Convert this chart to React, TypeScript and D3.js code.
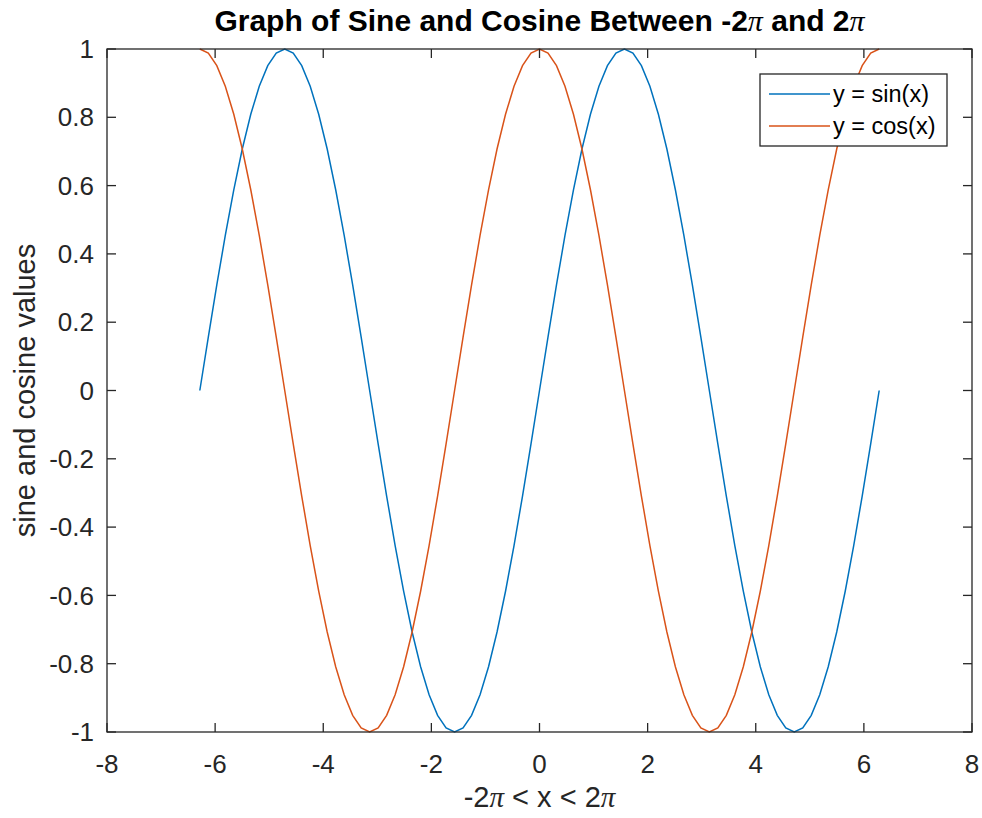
import React from "react";
import * as d3 from "d3";

const xValues = [
  -6.2832, -6.1261, -5.969, -5.8119, -5.6549, -5.4978, -5.3407, -5.1836, -5.0265, -4.8695,
  -4.7124, -4.5553, -4.3982, -4.2412, -4.0841, -3.927, -3.7699, -3.6128, -3.4558, -3.2987,
  -3.1416, -2.9845, -2.8274, -2.6704, -2.5133, -2.3562, -2.1991, -2.042, -1.885, -1.7279,
  -1.5708, -1.4137, -1.2566, -1.0996, -0.9425, -0.7854, -0.6283, -0.4712, -0.3142, -0.1571,
  0,
  0.1571, 0.3142, 0.4712, 0.6283, 0.7854, 0.9425, 1.0996, 1.2566, 1.4137, 1.5708,
  1.7279, 1.885, 2.042, 2.1991, 2.3562, 2.5133, 2.6704, 2.8274, 2.9845, 3.1416,
  3.2987, 3.4558, 3.6128, 3.7699, 3.927, 4.0841, 4.2412, 4.3982, 4.5553, 4.7124,
  4.8695, 5.0265, 5.1836, 5.3407, 5.4978, 5.6549, 5.8119, 5.969, 6.1261, 6.2832,
];

const sinValues = [
  0, 0.1564, 0.309, 0.454, 0.5878, 0.7071, 0.809, 0.891, 0.9511, 0.9877,
  1, 0.9877, 0.9511, 0.891, 0.809, 0.7071, 0.5878, 0.454, 0.309, 0.1564,
  0, -0.1564, -0.309, -0.454, -0.5878, -0.7071, -0.809, -0.891, -0.9511, -0.9877,
  -1, -0.9877, -0.9511, -0.891, -0.809, -0.7071, -0.5878, -0.454, -0.309, -0.1564,
  0,
  0.1564, 0.309, 0.454, 0.5878, 0.7071, 0.809, 0.891, 0.9511, 0.9877, 1,
  0.9877, 0.9511, 0.891, 0.809, 0.7071, 0.5878, 0.454, 0.309, 0.1564, 0,
  -0.1564, -0.309, -0.454, -0.5878, -0.7071, -0.809, -0.891, -0.9511, -0.9877, -1,
  -0.9877, -0.9511, -0.891, -0.809, -0.7071, -0.5878, -0.454, -0.309, -0.1564, 0,
];

const cosValues = [
  1, 0.9877, 0.9511, 0.891, 0.809, 0.7071, 0.5878, 0.454, 0.309, 0.1564,
  0, -0.1564, -0.309, -0.454, -0.5878, -0.7071, -0.809, -0.891, -0.9511, -0.9877,
  -1, -0.9877, -0.9511, -0.891, -0.809, -0.7071, -0.5878, -0.454, -0.309, -0.1564,
  0, 0.1564, 0.309, 0.454, 0.5878, 0.7071, 0.809, 0.891, 0.9511, 0.9877,
  1,
  0.9877, 0.9511, 0.891, 0.809, 0.7071, 0.5878, 0.454, 0.309, 0.1564, 0,
  -0.1564, -0.309, -0.454, -0.5878, -0.7071, -0.809, -0.891, -0.9511, -0.9877, -1,
  -0.9877, -0.9511, -0.891, -0.809, -0.7071, -0.5878, -0.454, -0.309, -0.1564, 0,
  0.1564, 0.309, 0.454, 0.5878, 0.7071, 0.809, 0.891, 0.9511, 0.9877, 1,
];

const xTicks = [-8, -6, -4, -2, 0, 2, 4, 6, 8];
const yTicks = [-1, -0.8, -0.6, -0.4, -0.2, 0, 0.2, 0.4, 0.6, 0.8, 1];
const seriesNames = ["y = sin(x)", "y = cos(x)"];
const seriesColors = ["#0072BD", "#D95319"];

const W = 982;
const H = 818;
const AX = { left: 107, right: 972, top: 49, bottom: 732 };
const FONT = "Helvetica, Arial, 'Liberation Sans', sans-serif";
const SERIF = "'Liberation Serif', 'DejaVu Serif', serif";
const AXIS_COLOR = "#262626";

export default function App() {
  const x = d3.scaleLinear().domain([-8, 8]).range([AX.left, AX.right]);
  const y = d3.scaleLinear().domain([-1, 1]).range([AX.bottom, AX.top]);
  const line = d3
    .line<number>()
    .x((_, i) => x(xValues[i]))
    .y((d) => y(d));
  const series = [sinValues, cosValues];
  const tick = 9;
  const fmt = (v: number) => String(Math.round(v * 10) / 10);
  const pi = (
    <tspan fontFamily={SERIF} fontStyle="italic" fontWeight="normal">
      π
    </tspan>
  );

  return (
    <svg
      width={W}
      height={H}
      style={{ position: "absolute", left: 0, top: 0, background: "#fff" }}
      fontFamily={FONT}
    >
      <rect x={0} y={0} width={W} height={H} fill="#fff" />
      {series.map((s, i) => (
        <path key={i} d={line(s) || ""} fill="none" stroke={seriesColors[i]} strokeWidth={1.5} />
      ))}
      <rect
        x={AX.left}
        y={AX.top}
        width={AX.right - AX.left}
        height={AX.bottom - AX.top}
        fill="none"
        stroke={AXIS_COLOR}
        strokeWidth={1.3}
      />
      {xTicks.map((t) => (
        <g key={"x" + t}>
          <line x1={x(t)} x2={x(t)} y1={AX.bottom} y2={AX.bottom - tick} stroke={AXIS_COLOR} strokeWidth={1.3} />
          <line x1={x(t)} x2={x(t)} y1={AX.top} y2={AX.top + tick} stroke={AXIS_COLOR} strokeWidth={1.3} />
          <text x={x(t)} y={AX.bottom + 41} textAnchor="middle" fontSize={26} fill={AXIS_COLOR}>
            {fmt(t)}
          </text>
        </g>
      ))}
      {yTicks.map((t) => (
        <g key={"y" + t}>
          <line x1={AX.left} x2={AX.left + tick} y1={y(t)} y2={y(t)} stroke={AXIS_COLOR} strokeWidth={1.3} />
          <line x1={AX.right} x2={AX.right - tick} y1={y(t)} y2={y(t)} stroke={AXIS_COLOR} strokeWidth={1.3} />
          <text x={AX.left - 13} y={y(t)} dy="0.35em" textAnchor="end" fontSize={26} fill={AXIS_COLOR}>
            {fmt(t)}
          </text>
        </g>
      ))}
      <text x={(AX.left + AX.right) / 2} y={31} textAnchor="middle" fontSize={30} fontWeight="bold" fill="#000">
        Graph of Sine and Cosine Between -2{pi} and 2{pi}
      </text>
      <text x={(AX.left + AX.right) / 2} y={807} textAnchor="middle" fontSize={29} fill={AXIS_COLOR}>
        -2{pi} &lt; x &lt; 2{pi}
      </text>
      <text
        transform={`translate(35, ${(AX.top + AX.bottom) / 2}) rotate(-90)`}
        textAnchor="middle"
        fontSize={29}
        fill={AXIS_COLOR}
      >
        sine and cosine values
      </text>
      <g>
        <rect x={760} y={74} width={187} height={72} fill="#fff" stroke={AXIS_COLOR} strokeWidth={1.3} />
        {seriesNames.map((n, i) => (
          <g key={n}>
            <line x1={769} x2={830} y1={94 + i * 32} y2={94 + i * 32} stroke={seriesColors[i]} strokeWidth={1.5} />
            <text x={833} y={94 + i * 32} dy="0.35em" fontSize={23.5} fill="#000">
              {n}
            </text>
          </g>
        ))}
      </g>
    </svg>
  );
}
